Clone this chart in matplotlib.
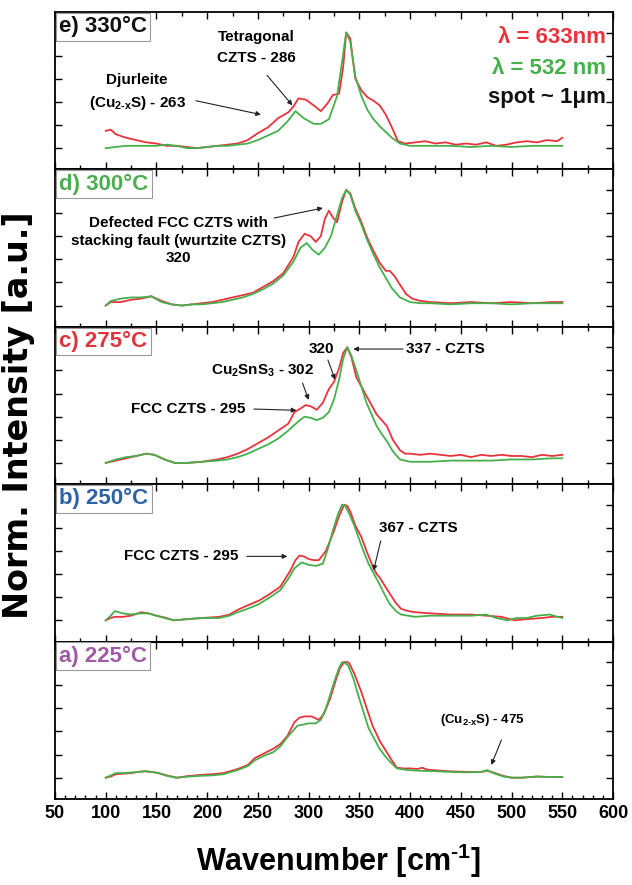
#!/usr/bin/env python3
"""
Raman spectra of CZTS films vs. annealing temperature (633 nm vs 532 nm excitation)
"""
import numpy as np
import matplotlib
matplotlib.use('Agg')
import matplotlib.pyplot as plt
from matplotlib.ticker import MultipleLocator, NullFormatter

plt.rcParams['font.family'] = ['Liberation Sans', 'DejaVu Sans']
plt.rcParams['font.weight'] = 'bold'
plt.rcParams['mathtext.fontset'] = 'custom'
plt.rcParams['mathtext.rm'] = 'Liberation Sans:bold'
plt.rcParams['mathtext.it'] = 'Liberation Sans:bold'
plt.rcParams['mathtext.bf'] = 'Liberation Sans:bold'

RED = '#e8333c'
GREEN = '#46b04c'

# ---- e) 330 C ----
e_x_633 = [100, 105, 110, 120, 130, 140, 150, 160, 170, 180, 190, 200, 210, 220, 230, 240, 250, 260, 270,
           280, 285, 290, 297, 305, 312, 318, 324, 330, 334, 337, 341, 346, 352, 358, 364, 370, 376, 382,
           388, 395, 405, 415, 425, 435, 445, 455, 465, 475, 485, 495, 505, 515, 525, 535, 545, 550]
e_y_633 = [0.15, 0.16, 0.12, 0.09, 0.07, 0.05, 0.04, 0.02, 0.02, 0.01, 0.0, 0.01, 0.02, 0.03, 0.04, 0.07,
           0.13, 0.18, 0.26, 0.31, 0.36, 0.43, 0.42, 0.37, 0.32, 0.38, 0.46, 0.47, 0.7, 1.0, 0.95, 0.6,
           0.5, 0.44, 0.41, 0.37, 0.29, 0.18, 0.06, 0.04, 0.05, 0.06, 0.04, 0.05, 0.03, 0.04, 0.03, 0.05,
           0.02, 0.03, 0.05, 0.06, 0.05, 0.07, 0.06, 0.09]
e_x_532 = [100, 110, 120, 130, 140, 150, 160, 170, 180, 190, 200, 210, 220, 230, 240, 250, 260, 270, 280,
           287, 295, 305, 312, 320, 328, 333, 337, 341, 346, 352, 358, 364, 370, 376, 382, 390, 400, 420,
           440, 460, 480, 500, 520, 540, 550]
e_y_532 = [0.0, 0.01, 0.02, 0.02, 0.02, 0.02, 0.03, 0.02, 0.0, 0.0, 0.01, 0.02, 0.02, 0.03, 0.04, 0.07,
           0.11, 0.15, 0.24, 0.32, 0.26, 0.21, 0.21, 0.25, 0.45, 0.75, 1.0, 0.92, 0.62, 0.45, 0.33, 0.25,
           0.19, 0.14, 0.09, 0.04, 0.02, 0.02, 0.02, 0.01, 0.02, 0.01, 0.02, 0.02, 0.02]

# ---- d) 300 C ----
d_x_633 = [100, 105, 115, 125, 135, 145, 155, 165, 175, 185, 195, 205, 215, 225, 235, 245, 255, 265, 275,
           285, 290, 296, 302, 307, 312, 316, 320, 324, 328, 333, 337, 341, 346, 352, 358, 364, 370, 376,
           380, 385, 390, 396, 402, 410, 420, 440, 460, 480, 500, 520, 540, 550]
d_y_633 = [0.0, 0.03, 0.03, 0.05, 0.06, 0.08, 0.04, 0.01, 0.0, 0.01, 0.02, 0.03, 0.05, 0.07, 0.09, 0.11,
           0.16, 0.21, 0.28, 0.42, 0.55, 0.62, 0.6, 0.55, 0.6, 0.75, 0.82, 0.76, 0.72, 0.9, 1.0, 0.97,
           0.84, 0.72, 0.58, 0.47, 0.37, 0.3, 0.3, 0.25, 0.18, 0.1, 0.06, 0.04, 0.03, 0.02, 0.03, 0.02,
           0.03, 0.02, 0.03, 0.03]
d_x_532 = [100, 105, 115, 125, 135, 145, 155, 165, 175, 185, 195, 205, 215, 225, 235, 245, 255, 265, 275,
           285, 292, 298, 304, 310, 316, 322, 328, 333, 337, 341, 346, 352, 358, 364, 370, 376, 382, 390,
           400, 410, 420, 440, 460, 480, 500, 520, 540, 550]
d_y_532 = [0.0, 0.04, 0.06, 0.07, 0.07, 0.08, 0.03, 0.01, 0.0, 0.01, 0.01, 0.02, 0.03, 0.05, 0.07, 0.1,
           0.14, 0.19, 0.26, 0.38, 0.5, 0.54, 0.48, 0.44, 0.5, 0.6, 0.78, 0.93, 1.0, 0.96, 0.82, 0.7,
           0.56, 0.44, 0.33, 0.24, 0.15, 0.07, 0.03, 0.02, 0.02, 0.01, 0.02, 0.02, 0.01, 0.02, 0.02, 0.02]

# ---- c) 275 C ----
c_x_633 = [100, 110, 120, 130, 140, 148, 158, 168, 180, 195, 210, 220, 230, 240, 250, 260, 270, 280, 286,
           292, 297, 302, 308, 314, 320, 325, 330, 334, 338, 342, 347, 352, 357, 362, 367, 372, 377, 383,
           390, 395, 400, 410, 420, 430, 440, 450, 460, 470, 480, 490, 500, 510, 520, 530, 540, 550]
c_y_633 = [0.0, 0.02, 0.04, 0.06, 0.08, 0.07, 0.03, 0.0, 0.0, 0.01, 0.03, 0.05, 0.08, 0.12, 0.17, 0.22,
           0.28, 0.34, 0.44, 0.47, 0.5, 0.49, 0.46, 0.52, 0.64, 0.7, 0.82, 0.95, 1.0, 0.92, 0.74, 0.66,
           0.58, 0.5, 0.42, 0.37, 0.32, 0.2, 0.11, 0.08, 0.08, 0.07, 0.08, 0.07, 0.06, 0.07, 0.05, 0.07,
           0.06, 0.07, 0.06, 0.06, 0.05, 0.07, 0.06, 0.07]
c_x_532 = [100, 110, 120, 130, 140, 148, 158, 168, 180, 195, 210, 220, 230, 240, 250, 260, 270, 280, 290,
           296, 302, 308, 314, 320, 325, 330, 334, 338, 342, 347, 352, 357, 362, 367, 372, 377, 383, 390,
           400, 420, 440, 460, 480, 500, 520, 540, 550]
c_y_532 = [0.0, 0.03, 0.05, 0.06, 0.08, 0.07, 0.03, 0.0, 0.0, 0.01, 0.02, 0.03, 0.05, 0.08, 0.12, 0.16,
           0.21, 0.28, 0.36, 0.4, 0.39, 0.37, 0.39, 0.44, 0.55, 0.72, 0.9, 1.0, 0.93, 0.8, 0.66, 0.52,
           0.42, 0.32, 0.25, 0.19, 0.1, 0.03, 0.01, 0.01, 0.02, 0.02, 0.02, 0.03, 0.03, 0.04, 0.04]

# ---- b) 250 C ----
b_x_633 = [100, 105, 109, 117, 125, 135, 142, 150, 160, 167, 180, 195, 212, 222, 230, 240, 251, 262, 272,
           282, 287, 291, 296, 300, 305, 310, 317, 324, 330, 335, 338, 341, 346, 352, 357, 363, 367, 370,
           375, 380, 386, 391, 398, 405, 420, 440, 460, 475, 490, 503, 515, 530, 540, 550]
b_y_633 = [0.0, 0.02, 0.03, 0.03, 0.04, 0.07, 0.06, 0.04, 0.02, 0.0, 0.01, 0.02, 0.03, 0.05, 0.09, 0.13,
           0.17, 0.23, 0.29, 0.43, 0.52, 0.56, 0.55, 0.53, 0.52, 0.52, 0.6, 0.75, 0.9, 1.0, 0.99, 0.94,
           0.82, 0.72, 0.6, 0.47, 0.4, 0.37, 0.3, 0.23, 0.15, 0.1, 0.08, 0.07, 0.06, 0.05, 0.05, 0.04,
           0.03, 0.0, 0.01, 0.02, 0.03, 0.03]
b_x_532 = [100, 105, 109, 117, 125, 133, 142, 150, 158, 167, 180, 195, 212, 222, 230, 240, 251, 262, 272,
           280, 286, 293, 300, 307, 314, 319, 324, 329, 333, 336, 340, 345, 349, 354, 359, 365, 370, 375,
           380, 386, 391, 398, 405, 420, 440, 460, 475, 485, 496, 505, 515, 525, 538, 545, 550]
b_y_532 = [0.0, 0.04, 0.08, 0.06, 0.05, 0.06, 0.06, 0.04, 0.02, 0.0, 0.01, 0.02, 0.02, 0.04, 0.07, 0.1,
           0.14, 0.2, 0.26, 0.36, 0.45, 0.5, 0.48, 0.47, 0.49, 0.62, 0.78, 0.92, 1.0, 0.99, 0.92, 0.82,
           0.72, 0.6, 0.49, 0.39, 0.31, 0.22, 0.14, 0.08, 0.05, 0.04, 0.03, 0.04, 0.04, 0.04, 0.05, 0.02,
           0.0, 0.02, 0.02, 0.04, 0.05, 0.03, 0.02]

# ---- a) 225 C ----
a_x_633 = [100, 105, 110, 118, 125, 132, 139, 145, 152, 160, 170, 182, 195, 205, 216, 230, 240, 247, 256,
           265, 272, 279, 286, 291, 296, 303, 310, 315, 321, 327, 331, 335, 338, 340, 345, 352, 358, 363,
           370, 377, 382, 387, 394, 401, 407, 412, 417, 422, 440, 457, 470, 476, 482, 492, 500, 510, 525,
           540, 550]
a_y_633 = [0.0, 0.01, 0.03, 0.035, 0.04, 0.05, 0.055, 0.05, 0.04, 0.02, 0.0, 0.015, 0.025, 0.03, 0.04,
           0.075, 0.11, 0.17, 0.21, 0.25, 0.29, 0.36, 0.48, 0.52, 0.53, 0.53, 0.5, 0.55, 0.68, 0.85, 0.95,
           1.0, 1.0, 0.99, 0.9, 0.74, 0.58, 0.45, 0.32, 0.22, 0.15, 0.086, 0.08, 0.08, 0.075, 0.086, 0.07,
           0.066, 0.055, 0.05, 0.05, 0.06, 0.045, 0.015, 0.0, 0.0, 0.01, 0.005, 0.006]
a_x_532 = [100, 105, 110, 118, 125, 132, 139, 145, 152, 160, 170, 182, 195, 205, 216, 230, 240, 247, 256,
           265, 272, 279, 285, 289, 295, 300, 307, 312, 317, 321, 326, 330, 333, 336, 339, 344, 349, 354,
           359, 365, 370, 375, 380, 387, 398, 410, 422, 440, 457, 470, 476, 482, 492, 500, 510, 525, 540,
           550]
a_y_532 = [0.0, 0.02, 0.04, 0.04, 0.045, 0.05, 0.057, 0.05, 0.04, 0.017, 0.0, 0.01, 0.017, 0.02, 0.03,
           0.066, 0.1, 0.15, 0.19, 0.22, 0.27, 0.35, 0.41, 0.45, 0.46, 0.47, 0.47, 0.5, 0.6, 0.71, 0.85,
           0.95, 1.0, 0.99, 0.97, 0.86, 0.71, 0.57, 0.43, 0.33, 0.25, 0.19, 0.14, 0.08, 0.066, 0.06,
           0.057, 0.05, 0.046, 0.05, 0.066, 0.04, 0.01, 0.0, 0.0, 0.01, 0.005, 0.006]

panel_labels = ['e) 330°C', 'd) 300°C', 'c) 275°C', 'b) 250°C', 'a) 225°C']
label_colors = ['#111111', '#4cae4f', '#e0343c', '#2e62a6', '#a05aa6']
spectra = [
    (e_x_633, e_y_633, e_x_532, e_y_532),
    (d_x_633, d_y_633, d_x_532, d_y_532),
    (c_x_633, c_y_633, c_x_532, c_y_532),
    (b_x_633, b_y_633, b_x_532, b_y_532),
    (a_x_633, a_y_633, a_x_532, a_y_532),
]

YLIM = (-0.184, 1.177)
ANN_FS = 11
LABEL_FS = 16
PAD = 0.15


def arrow(ax, tail, tip):
    ax.annotate('', xy=tip, xytext=tail,
                arrowprops=dict(arrowstyle='-|>', color='#222222', lw=0.8,
                                mutation_scale=7, shrinkA=0, shrinkB=0))


fig = plt.figure(figsize=(6.32, 8.85), dpi=100)
gs = fig.add_gridspec(5, 1, left=0.087, right=0.970, top=0.9864, bottom=0.0972, hspace=0)
axes = [fig.add_subplot(gs[i]) for i in range(5)]

for i, ax in enumerate(axes):
    x633, y633, x532, y532 = spectra[i]
    ax.plot(x633, y633, color=RED, lw=1.3, solid_joinstyle='round')
    ax.plot(x532, y532, color=GREEN, lw=1.3, solid_joinstyle='round')
    ax.set_xlim(50, 600)
    ax.set_ylim(*YLIM)
    ax.xaxis.set_major_locator(MultipleLocator(50))
    ax.xaxis.set_minor_locator(MultipleLocator(25))
    ax.yaxis.set_major_locator(MultipleLocator(0.2))
    ax.yaxis.set_major_formatter(NullFormatter())
    ax.tick_params(which='both', direction='in', top=True, right=True, width=1.0)
    ax.tick_params(which='major', length=5)
    ax.tick_params(which='minor', length=3)
    for sp in ax.spines.values():
        sp.set_linewidth(1.3)
    if i < 4:
        ax.xaxis.set_major_formatter(NullFormatter())
    off = PAD * LABEL_FS + 0.6
    ax.annotate(panel_labels[i], xy=(0, 1), xycoords='axes fraction',
                xytext=(off, -off), textcoords='offset points', ha='left', va='top',
                fontsize=LABEL_FS, fontweight='bold', color=label_colors[i],
                bbox=dict(boxstyle=f'square,pad={PAD}', fc='white', ec='#9a9a9a', lw=0.8))

# bottom panel: finer minor ticks on the labelled axis
ax = axes[4]
ax.xaxis.set_minor_locator(MultipleLocator(10))
ax.tick_params(which='both', top=False)
ax.tick_params(axis='x', labelsize=13, pad=4)
sec = ax.secondary_xaxis('top')
sec.xaxis.set_major_locator(MultipleLocator(50))
sec.xaxis.set_minor_locator(MultipleLocator(25))
sec.xaxis.set_major_formatter(NullFormatter())
sec.tick_params(which='both', direction='in', width=1.0)
sec.tick_params(which='major', length=5)
sec.tick_params(which='minor', length=3)
for lab in ax.get_xticklabels():
    lab.set_fontweight('bold')

CUX = r'(Cu$_{2\text{-}x}$S)'

# e) annotations
ax = axes[0]
ax.text(248, 0.87, 'Tetragonal\nCZTS - 286', ha='center', va='center', fontsize=ANN_FS,
        linespacing=1.6)
arrow(ax, (259, 0.63), (284, 0.37))
ax.text(131, 0.48, 'Djurleite\n' + CUX + ' - 263', ha='center', va='center', fontsize=ANN_FS,
        linespacing=1.5)
arrow(ax, (189, 0.41), (253, 0.29))
ax.text(593, 0.96, 'λ = 633nm', ha='right', va='center', fontsize=16, color=RED)
ax.text(593, 0.69, 'λ = 532 nm', ha='right', va='center', fontsize=16, color=GREEN)
ax.text(593, 0.435, 'spot ~ 1μm', ha='right', va='center', fontsize=16, color='#111111')

# d) annotations
ax = axes[1]
ax.text(172, 0.56, 'Defected FCC CZTS with\nstacking fault (wurtzite CZTS)\n320',
        ha='center', va='center', fontsize=ANN_FS, linespacing=1.3)
arrow(ax, (266, 0.757), (314, 0.843))

# c) annotations
ax = axes[2]
ax.text(181, 0.466, 'FCC CZTS - 295', ha='center', va='center', fontsize=ANN_FS)
arrow(ax, (246, 0.466), (288, 0.455))
ax.text(255, 0.80, 'Cu$_2$SnS$_3$ - 302', ha='center', va='center', fontsize=ANN_FS)
arrow(ax, (294, 0.69), (300, 0.545))
ax.text(313, 0.985, '320', ha='center', va='center', fontsize=ANN_FS)
arrow(ax, (319, 0.89), (326, 0.72))
ax.text(396, 0.985, '337 - CZTS', ha='left', va='center', fontsize=ANN_FS)
arrow(ax, (393, 0.985), (344, 0.985))

# b) annotations
ax = axes[3]
ax.text(174, 0.553, 'FCC CZTS - 295', ha='center', va='center', fontsize=ANN_FS)
arrow(ax, (239, 0.553), (279, 0.553))
ax.text(408, 0.80, '367 - CZTS', ha='center', va='center', fontsize=ANN_FS)
arrow(ax, (371, 0.687), (364, 0.43))

# a) annotations
ax = axes[4]
ax.text(471, 0.50, CUX + ' - 475', ha='center', va='center', fontsize=9.5)
arrow(ax, (490, 0.326), (480, 0.11))

fig.text(0.030, 0.531, 'Norm. Intensity [a.u.]', rotation=90, ha='center', va='center',
         fontsize=24, fontweight='bold', family='DejaVu Sans')
fig.text(0.535, 0.027, r'Wavenumber [cm$^{\text{-}1}$]', ha='center', va='center',
         fontsize=22, fontweight='bold')

fig.savefig('out.png', dpi=100)
